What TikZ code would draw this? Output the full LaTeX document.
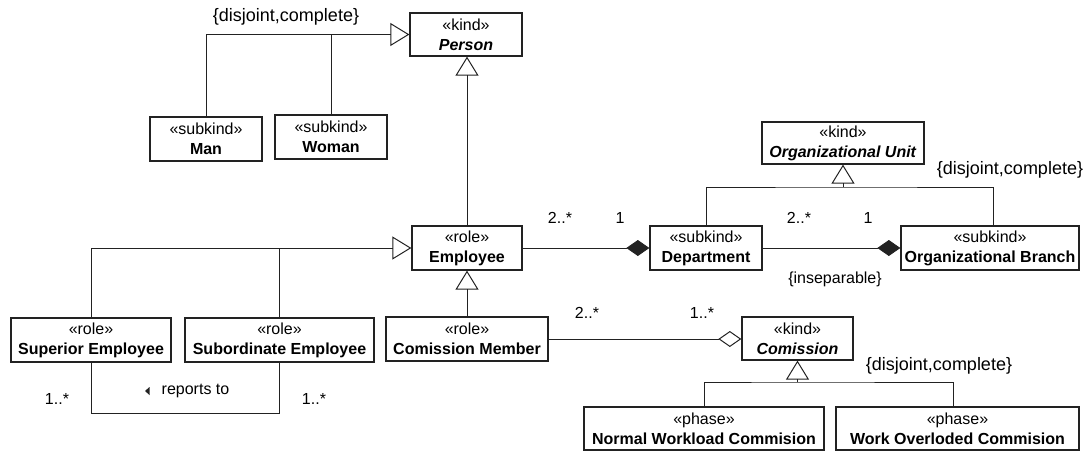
\documentclass[tikz,border=0pt]{standalone}
\usepackage{fontspec}
\setmainfont{Liberation Sans}
\usetikzlibrary{arrows.meta}
\definecolor{ink}{HTML}{222222}
\tikzset{
  umlbox/.style={draw=ink, line width=1.3pt, inner sep=0pt, align=center, fill=white,
    font=\fontsize{16}{20}\selectfont},
  conn/.style={draw=ink, line width=0.9pt},
  gen/.style={conn, -{Triangle[open, length=19pt, width=23pt, line width=1pt]}},
  comp/.style={conn, -{Diamond[length=23pt, width=16pt]}},
  aggr/.style={conn, -{Diamond[open, length=23pt, width=16pt, line width=1pt]}},
  lbl/.style={inner sep=0pt, font=\fontsize{16}{19}\selectfont},
  cons/.style={inner sep=0pt, font=\fontsize{18}{21}\selectfont}
}
\begin{document}
\begin{tikzpicture}[x=1pt, y=-1pt]
\useasboundingbox (0,0) rectangle (1088,452);

% boxes
\node[umlbox, minimum width=112pt, minimum height=43pt] (person) at (466,34.5) {«kind»\\\textbf{\textit{Person}}};
\node[umlbox, minimum width=112pt, minimum height=44pt] (man) at (206,139) {«subkind»\\\textbf{Man}};
\node[umlbox, minimum width=112pt, minimum height=44pt] (woman) at (331,137) {«subkind»\\\textbf{Woman}};
\node[umlbox, minimum width=110pt, minimum height=44pt] (emp) at (467,248) {«role»\\\textbf{Employee}};
\node[umlbox, minimum width=160pt, minimum height=44pt] (sup) at (91,340) {«role»\\\textbf{Superior Employee}};
\node[umlbox, minimum width=189pt, minimum height=44pt] (sub) at (279.5,340) {«role»\\\textbf{Subordinate Employee}};
\node[umlbox, minimum width=162pt, minimum height=44pt] (cm) at (467,339) {«role»\\\textbf{Comission Member}};
\node[umlbox, minimum width=162pt, minimum height=42pt] (ou) at (843,143) {«kind»\\\textbf{\textit{Organizational Unit}}};
\node[umlbox, minimum width=112pt, minimum height=44pt] (dept) at (706,248) {«subkind»\\\textbf{Department}};
\node[umlbox, minimum width=178pt, minimum height=44pt] (branch) at (990,248) {«subkind»\\\textbf{Organizational Branch}};
\node[umlbox, minimum width=111pt, minimum height=43pt] (com) at (797.5,338.5) {«kind»\\\textbf{\textit{Comission}}};
\node[umlbox, minimum width=240pt, minimum height=43pt] (normal) at (704,428.5) {«phase»\\\textbf{Normal Workload Commision}};
\node[umlbox, minimum width=243pt, minimum height=43pt] (over) at (957.5,428.5) {«phase»\\\textbf{Work Overloded Commision}};

% generalization: Man, Woman -> Person
\draw[gen] (man.north) |- (person.west);
\draw[conn] (woman.north) -- (woman.north |- person.west);
% Employee -> Person
\draw[gen] (emp.north) -- (emp.north |- person.south);
% Superior, Subordinate -> Employee
\draw[gen] (sup.north) |- (emp.west);
\draw[conn] (sub.north) -- (sub.north |- emp.west);
% Comission Member -> Employee
\draw[gen] (cm.north) -- (cm.north |- emp.south);
% Department, Branch -> Organizational Unit
\coordinate (ouj) at (843,187);
\coordinate (brn) at ([xshift=3pt]branch.north);
\draw[conn] (dept.north) |- (ouj) -| (brn);
\draw[gen] (ouj) -- (ou.south);
% Normal, Overloded -> Comission
\coordinate (coj) at (797.5,382);
\coordinate (ovn) at ([xshift=-4.5pt]over.north);
\draw[conn] (normal.north) |- (coj) -| (ovn);
\draw[gen] (coj) -- (com.south);

% compositions
\draw[comp] (emp.east) -- (dept.west);
\draw[comp] (dept.east) -- (branch.west);
% aggregation
\draw[aggr] (cm.east) -- (cm.east -| com.west);

% reports to
\coordinate (rtb) at (91,413);
\draw[conn] (sup.south) -- (rtb) -| (sub.south);
\fill[ink] (145,391) -- (149.5,387) -- (149.5,395) -- cycle;
\node[lbl] (rtl) at (195.5,391) {reports to};
\node[lbl] (m1) at (57,399) {1..*};
\node[lbl] (m2) at (314,399) {1..*};

% multiplicities
\node[lbl] (m3) at (560,218) {2..*};
\node[lbl] (m4) at (620,218) {1};
\node[lbl] (m5) at (799,218) {2..*};
\node[lbl] (m6) at (868,218) {1};
\node[lbl] (m7) at (587,313) {2..*};
\node[lbl] (m8) at (702,313) {1..*};

% constraints
\node[cons] (c1) at (286,17) {\{disjoint,complete\}};
\node[cons] (c2) at (1010,170) {\{disjoint,complete\}};
\node[cons] (c3) at (939,366) {\{disjoint,complete\}};
\node[lbl] (c4) at (835,279) {\{inseparable\}};
\end{tikzpicture}
\end{document}
